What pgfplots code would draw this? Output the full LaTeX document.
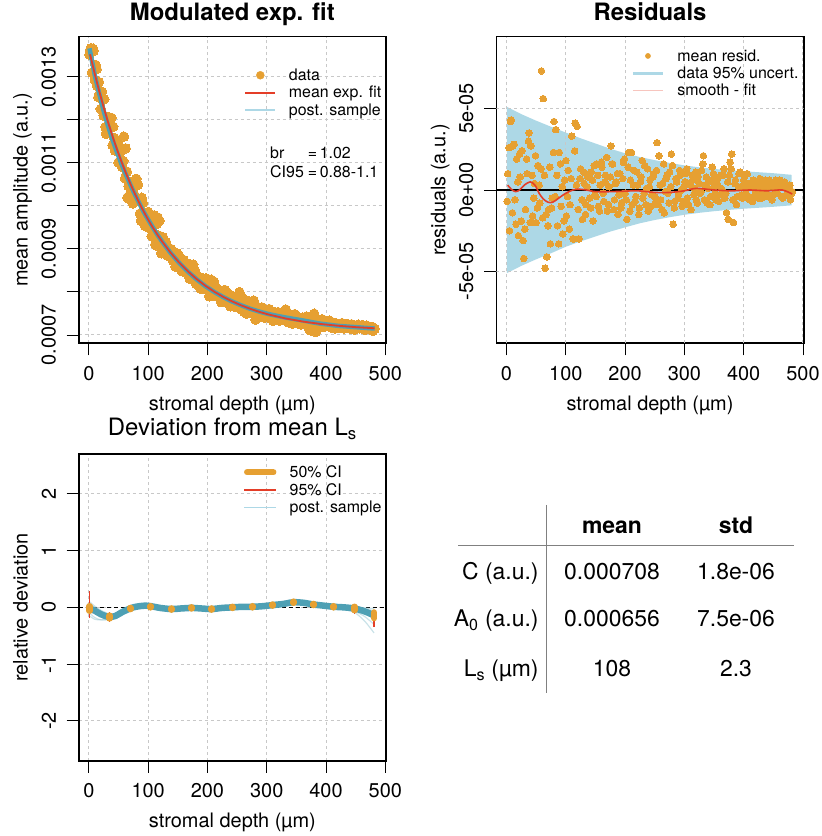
\documentclass[border=0pt]{standalone}
\usepackage{fontspec}
\setmainfont{TeX Gyre Heros}
\usepackage{pgfplots}
\pgfplotsset{compat=1.18}
\usepackage{pgfplotstable}

\definecolor{dorange}{RGB}{230,160,50}
\definecolor{fitred}{RGB}{228,62,40}
\definecolor{sampteal}{RGB}{78,160,180}
\definecolor{lblue}{RGB}{173,216,230}
\definecolor{gridgray}{RGB}{200,200,200}

\newcommand{\tickfont}{\fontsize{20}{24}\selectfont}
\newcommand{\legfont}{\fontsize{16}{19}\selectfont}
\newcommand{\tabfont}{\fontsize{23}{27}\selectfont}

% x, data (a.u.), residual (a.u.)
\pgfplotstableread{
x y r
2 136.20e-5 1.0e-5
5 130.94e-5 -2.5e-5
8 136.02e-5 4.3e-5
11 132.75e-5 2.7e-5
14 127.83e-5 -0.6e-5
17 128.75e-5 1.9e-5
20 122.51e-5 -2.8e-5
23 124.62e-5 0.8e-5
26 124.77e-5 2.4e-5
29 116.76e-5 -4.2e-5
32 118.38e-5 -1.2e-5
35 119.24e-5 1.0e-5
38 120.44e-5 3.5e-5
41 118.38e-5 2.7e-5
44 112.85e-5 -1.6e-5
47 113.65e-5 0.4e-5
50 110.09e-5 -2.0e-5
53 112.46e-5 1.5e-5
56 109.06e-5 -0.8e-5
59 116.09e-5 7.3e-5
62 113.35e-5 5.6e-5
65 101.94e-5 -4.8e-5
68 101.65e-5 -4.1e-5
71 103.60e-5 -1.2e-5
74 100.56e-5 -3.3e-5
77 102.46e-5 -0.5e-5
80 106.28e-5 4.2e-5
83 104.92e-5 3.7e-5
86 98.19e-5 -2.2e-5
89 101.88e-5 2.3e-5
92 97.79e-5 -1.0e-5
95 95.32e-5 -2.7e-5
98 97.88e-5 0.6e-5
101 94.95e-5 -1.6e-5
104 97.05e-5 1.2e-5
107 94.26e-5 -0.9e-5
110 97.79e-5 3.3e-5
113 90.84e-5 -3.0e-5
116 97.31e-5 4.1e-5
119 96.50e-5 3.9e-5
122 89.00e-5 -3.0e-5
125 92.72e-5 1.3e-5
128 89.05e-5 -1.8e-5
131 90.71e-5 0.4e-5
134 88.87e-5 -0.9e-5
137 90.05e-5 0.8e-5
140 88.24e-5 -0.5e-5
143 89.35e-5 1.1e-5
146 85.88e-5 -1.9e-5
149 87.01e-5 -0.3e-5
152 88.46e-5 1.6e-5
155 85.42e-5 -1.0e-5
158 86.29e-5 0.3e-5
161 86.98e-5 1.4e-5
164 84.47e-5 -0.7e-5
167 85.68e-5 0.9e-5
170 83.10e-5 -1.3e-5
173 84.22e-5 0.2e-5
176 86.36e-5 2.7e-5
179 84.91e-5 1.6e-5
182 82.36e-5 -0.6e-5
185 83.13e-5 0.5e-5
188 80.80e-5 -1.5e-5
191 82.99e-5 1.0e-5
194 80.88e-5 -0.8e-5
197 83.08e-5 1.7e-5
200 80.89e-5 -0.2e-5
203 79.01e-5 -1.8e-5
206 82.84e-5 2.3e-5
209 80.87e-5 0.6e-5
212 79.11e-5 -0.9e-5
215 80.96e-5 1.2e-5
218 79.11e-5 -0.4e-5
221 79.57e-5 0.3e-5
224 77.94e-5 -1.1e-5
227 79.62e-5 0.8e-5
230 78.10e-5 -0.5e-5
233 79.88e-5 1.5e-5
236 78.27e-5 0.1e-5
239 76.67e-5 -1.3e-5
242 78.38e-5 0.6e-5
245 77.29e-5 -0.3e-5
248 78.40e-5 1.0e-5
251 76.42e-5 -0.8e-5
254 79.95e-5 2.9e-5
257 78.98e-5 2.1e-5
260 76.11e-5 -0.6e-5
263 76.95e-5 0.4e-5
266 74.99e-5 -1.4e-5
269 76.94e-5 0.7e-5
272 75.89e-5 -0.2e-5
275 77.05e-5 1.1e-5
278 78.00e-5 2.2e-5
281 73.57e-5 -2.1e-5
284 74.83e-5 -0.7e-5
287 75.90e-5 0.5e-5
290 74.98e-5 -0.3e-5
293 76.06e-5 0.9e-5
296 74.04e-5 -1.0e-5
299 75.12e-5 0.2e-5
302 75.80e-5 1.0e-5
305 74.19e-5 -0.5e-5
308 74.98e-5 0.4e-5
311 73.28e-5 -1.2e-5
314 74.98e-5 0.6e-5
317 74.38e-5 0.1e-5
320 73.59e-5 -0.6e-5
323 74.89e-5 0.8e-5
326 73.80e-5 -0.2e-5
329 75.12e-5 1.2e-5
332 75.93e-5 2.1e-5
335 74.05e-5 0.3e-5
338 72.87e-5 -0.8e-5
341 74.09e-5 0.5e-5
344 73.11e-5 -0.4e-5
347 74.84e-5 1.4e-5
350 73.57e-5 0.2e-5
353 72.69e-5 -0.6e-5
356 73.93e-5 0.7e-5
359 72.86e-5 -0.3e-5
362 73.20e-5 0.1e-5
365 73.94e-5 0.9e-5
368 72.48e-5 -0.5e-5
371 71.52e-5 -1.4e-5
374 71.06e-5 -1.8e-5
377 74.50e-5 1.7e-5
380 74.95e-5 2.2e-5
383 70.69e-5 -2.0e-5
386 73.24e-5 0.6e-5
389 72.19e-5 -0.4e-5
392 73.54e-5 1.0e-5
395 72.69e-5 0.2e-5
398 71.95e-5 -0.5e-5
401 73.20e-5 0.8e-5
404 72.16e-5 -0.2e-5
407 72.71e-5 0.4e-5
410 71.67e-5 -0.6e-5
413 72.53e-5 0.3e-5
416 72.79e-5 0.6e-5
419 71.85e-5 -0.3e-5
422 72.22e-5 0.1e-5
425 71.58e-5 -0.5e-5
428 72.45e-5 0.4e-5
431 71.81e-5 -0.2e-5
434 72.48e-5 0.5e-5
437 71.95e-5 0.0e-5
440 71.52e-5 -0.4e-5
443 72.49e-5 0.6e-5
446 72.06e-5 0.2e-5
449 71.53e-5 -0.3e-5
452 72.30e-5 0.5e-5
455 71.67e-5 -0.1e-5
458 72.05e-5 0.3e-5
461 72.32e-5 0.6e-5
464 71.30e-5 -0.4e-5
467 71.87e-5 0.2e-5
470 72.05e-5 0.4e-5
473 71.42e-5 -0.2e-5
476 71.70e-5 0.1e-5
479 70.98e-5 -0.6e-5
482 71.46e-5 -0.1e-5
}\datatab

% further measurements: x, data (a.u.), residual (a.u.)
\pgfplotstableread{
x y r
1 135.10e-5 -0.7e-5
4 136.62e-5 2.6e-5
7 136.49e-5 4.2e-5
10 129.20e-5 -1.4e-5
13 131.77e-5 2.8e-5
16 125.27e-5 -2.1e-5
19 126.32e-5 0.5e-5
22 126.51e-5 2.2e-5
25 120.95e-5 -1.9e-5
28 118.33e-5 -3.1e-5
31 117.63e-5 -2.4e-5
34 120.58e-5 1.9e-5
37 120.37e-5 3.0e-5
40 114.10e-5 -2.0e-5
43 115.76e-5 0.9e-5
46 113.14e-5 -0.5e-5
49 114.57e-5 2.1e-5
52 110.23e-5 -1.1e-5
55 110.52e-5 0.3e-5
58 110.44e-5 1.3e-5
61 106.39e-5 -1.7e-5
64 107.97e-5 0.9e-5
67 104.58e-5 -1.5e-5
70 102.92e-5 -2.2e-5
73 105.57e-5 1.4e-5
76 102.16e-5 -1.1e-5
79 104.67e-5 2.3e-5
82 101.10e-5 -0.4e-5
85 101.57e-5 0.9e-5
88 96.55e-5 -3.3e-5
91 100.65e-5 1.6e-5
94 98.47e-5 0.2e-5
97 95.63e-5 -1.9e-5
100 98.59e-5 1.8e-5
103 95.68e-5 -0.4e-5
106 92.99e-5 -2.4e-5
109 95.41e-5 0.7e-5
112 91.05e-5 -3.0e-5
115 95.82e-5 2.4e-5
118 93.10e-5 0.3e-5
121 91.00e-5 -1.2e-5
124 92.31e-5 0.7e-5
127 90.44e-5 -0.6e-5
130 91.59e-5 1.1e-5
133 88.45e-5 -1.5e-5
136 89.62e-5 0.2e-5
139 89.91e-5 1.0e-5
142 87.31e-5 -1.1e-5
145 88.54e-5 0.6e-5
148 88.96e-5 1.5e-5
151 86.61e-5 -0.4e-5
154 87.47e-5 0.9e-5
157 84.83e-5 -1.3e-5
160 87.42e-5 1.7e-5
163 85.10e-5 -0.2e-5
166 85.41e-5 0.5e-5
169 86.53e-5 2.0e-5
172 83.24e-5 -0.9e-5
175 84.58e-5 0.8e-5
178 85.03e-5 1.6e-5
181 81.87e-5 -1.2e-5
184 83.14e-5 0.4e-5
187 83.41e-5 1.0e-5
190 81.79e-5 -0.3e-5
193 80.68e-5 -1.1e-5
196 82.18e-5 0.7e-5
199 83.09e-5 1.9e-5
202 80.30e-5 -0.6e-5
205 82.03e-5 1.4e-5
208 79.06e-5 -1.3e-5
211 82.40e-5 2.3e-5
214 80.14e-5 0.3e-5
217 78.89e-5 -0.7e-5
220 80.45e-5 1.1e-5
223 77.62e-5 -1.5e-5
226 79.39e-5 0.5e-5
229 80.47e-5 1.8e-5
232 78.25e-5 -0.2e-5
235 77.34e-5 -0.9e-5
238 79.34e-5 1.3e-5
241 78.04e-5 0.2e-5
244 76.65e-5 -1.0e-5
247 78.26e-5 0.8e-5
250 76.88e-5 -0.4e-5
253 78.31e-5 1.2e-5
256 76.04e-5 -0.9e-5
259 77.06e-5 0.3e-5
262 75.40e-5 -1.2e-5
265 78.04e-5 1.6e-5
268 76.19e-5 -0.1e-5
271 77.04e-5 0.9e-5
274 75.20e-5 -0.8e-5
277 76.05e-5 0.2e-5
280 77.22e-5 1.5e-5
283 74.47e-5 -1.1e-5
286 76.14e-5 0.7e-5
289 74.82e-5 -0.5e-5
292 76.40e-5 1.2e-5
295 75.08e-5 0.0e-5
298 74.26e-5 -0.7e-5
301 75.34e-5 0.5e-5
304 76.03e-5 1.3e-5
307 73.72e-5 -0.9e-5
310 74.81e-5 0.3e-5
313 75.31e-5 0.9e-5
316 74.01e-5 -0.3e-5
319 75.32e-5 1.1e-5
322 73.32e-5 -0.8e-5
325 74.43e-5 0.4e-5
328 73.85e-5 -0.1e-5
331 75.46e-5 1.6e-5
334 73.18e-5 -0.6e-5
337 74.50e-5 0.8e-5
340 73.72e-5 0.1e-5
343 72.64e-5 -0.9e-5
346 74.06e-5 0.6e-5
349 74.39e-5 1.0e-5
352 73.11e-5 -0.2e-5
355 73.65e-5 0.4e-5
358 72.48e-5 -0.7e-5
361 74.02e-5 0.9e-5
364 73.06e-5 0.0e-5
367 74.30e-5 1.3e-5
370 72.74e-5 -0.2e-5
373 73.38e-5 0.5e-5
376 73.72e-5 0.9e-5
379 74.07e-5 1.3e-5
382 72.11e-5 -0.6e-5
385 73.06e-5 0.4e-5
388 71.71e-5 -0.9e-5
391 72.76e-5 0.2e-5
394 73.61e-5 1.1e-5
397 72.17e-5 -0.3e-5
400 73.01e-5 0.6e-5
403 72.57e-5 0.2e-5
406 73.32e-5 1.0e-5
409 71.88e-5 -0.4e-5
412 72.44e-5 0.2e-5
415 71.50e-5 -0.7e-5
418 72.56e-5 0.4e-5
421 72.03e-5 -0.1e-5
424 72.39e-5 0.3e-5
427 72.76e-5 0.7e-5
430 71.52e-5 -0.5e-5
433 72.09e-5 0.1e-5
436 72.56e-5 0.6e-5
439 72.13e-5 0.2e-5
442 71.60e-5 -0.3e-5
445 72.27e-5 0.4e-5
448 71.24e-5 -0.6e-5
451 72.11e-5 0.3e-5
454 72.38e-5 0.6e-5
457 71.56e-5 -0.2e-5
460 71.93e-5 0.2e-5
463 72.11e-5 0.4e-5
466 71.18e-5 -0.5e-5
469 72.16e-5 0.5e-5
472 71.73e-5 0.1e-5
475 71.31e-5 -0.3e-5
478 71.89e-5 0.3e-5
481 71.37e-5 -0.2e-5
}\extratab

% mean exponential fit
\pgfplotstableread{
x f
2 135.20e-5
10 130.60e-5
17 126.85e-5
25 122.84e-5
32 119.58e-5
40 116.10e-5
47 113.25e-5
55 110.22e-5
62 107.75e-5
70 105.11e-5
77 102.96e-5
85 100.66e-5
92 98.79e-5
100 96.79e-5
107 95.16e-5
115 93.42e-5
122 92.00e-5
137 89.25e-5
152 86.86e-5
167 84.78e-5
182 82.96e-5
197 81.38e-5
212 80.01e-5
227 78.82e-5
242 77.78e-5
257 76.88e-5
272 76.09e-5
287 75.40e-5
302 74.80e-5
332 73.83e-5
362 73.10e-5
392 72.54e-5
422 72.12e-5
452 71.80e-5
482 71.56e-5
}\fittab

% posterior sample (modulated fit)
\pgfplotstableread{
x f
1 136.6e-5
10 130.3e-5
17 126.3e-5
25 122.0e-5
32 118.7e-5
40 115.3e-5
47 112.6e-5
55 109.7e-5
62 107.4e-5
70 104.9e-5
77 102.8e-5
85 100.6e-5
92 98.7e-5
100 96.8e-5
107 95.2e-5
115 93.4e-5
122 92.0e-5
137 89.2e-5
152 86.8e-5
167 84.7e-5
182 82.9e-5
197 81.3e-5
212 79.95e-5
227 78.78e-5
242 77.76e-5
257 76.88e-5
272 76.10e-5
287 75.45e-5
302 74.90e-5
317 74.45e-5
332 74.05e-5
347 73.70e-5
362 73.35e-5
377 72.95e-5
392 72.60e-5
422 72.10e-5
452 71.80e-5
482 71.50e-5
}\samptab

% 95% uncertainty band of the data (closed polygon: upper edge, then lower edge back)
\pgfplotstableread{
x b
0.5 5.10e-5
25 4.65e-5
50 4.25e-5
75 3.88e-5
100 3.52e-5
125 3.17e-5
150 2.85e-5
175 2.53e-5
200 2.25e-5
225 2.02e-5
250 1.83e-5
275 1.66e-5
300 1.51e-5
325 1.39e-5
350 1.29e-5
375 1.21e-5
400 1.15e-5
425 1.09e-5
450 1.03e-5
481 0.93e-5
481 -0.94e-5
450 -1.03e-5
425 -1.09e-5
400 -1.15e-5
375 -1.22e-5
350 -1.30e-5
325 -1.40e-5
300 -1.52e-5
275 -1.67e-5
250 -1.84e-5
225 -2.04e-5
200 -2.29e-5
175 -2.55e-5
150 -2.85e-5
125 -3.15e-5
100 -3.48e-5
75 -3.88e-5
50 -4.25e-5
25 -4.65e-5
0.5 -5.10e-5
}\bandtab

% smooth minus fit
\pgfplotstableread{
x s
2 0.30e-5
8 0.05e-5
15 -0.10e-5
22 0.00e-5
30 0.30e-5
40 0.50e-5
48 0.30e-5
55 -0.20e-5
62 -0.55e-5
70 -0.75e-5
78 -0.75e-5
88 -0.50e-5
100 -0.20e-5
112 0.00e-5
122 0.05e-5
135 0.00e-5
150 -0.10e-5
180 -0.10e-5
220 -0.05e-5
250 -0.15e-5
275 -0.15e-5
300 -0.05e-5
320 0.10e-5
350 0.00e-5
380 -0.05e-5
410 0.00e-5
440 -0.05e-5
465 0.00e-5
482 -0.25e-5
}\smoothtab

% relative deviation: 50% credible intervals (centre, plus, minus)
\pgfplotstableread{
x y p50 m50
1 -0.02 0.04 0.04
35 -0.17 0.025 0.025
70 -0.02 0.01 0.01
104 0.01 0.01 0.01
139 -0.03 0.01 0.01
173 -0.01 0.01 0.01
207 -0.03 0.01 0.01
242 0.00 0.01 0.01
276 0.01 0.01 0.01
310 0.04 0.01 0.01
345 0.09 0.01 0.01
379 0.05 0.01 0.01
413 0.01 0.01 0.01
448 -0.02 0.03 0.03
481 -0.14 0.05 0.05
}\citab

% relative deviation: posterior samples
\pgfplotstableread{
x a b c d e f
1 -0.02 0.05 -0.10 -0.15 0.10 0.00
10 -0.06 0.00 -0.18 -0.21 0.02 -0.04
20 -0.12 -0.07 -0.22 -0.22 -0.05 -0.10
30 -0.16 -0.12 -0.22 -0.20 -0.10 -0.15
36 -0.17 -0.14 -0.20 -0.18 -0.13 -0.16
45 -0.15 -0.12 -0.16 -0.15 -0.12 -0.14
55 -0.09 -0.07 -0.12 -0.11 -0.07 -0.09
65 -0.04 -0.02 -0.06 -0.06 -0.02 -0.04
75 0.00 0.01 -0.02 -0.02 0.01 0.00
85 0.02 0.03 0.01 0.01 0.03 0.02
95 0.03 0.04 0.02 0.02 0.04 0.03
105 0.02 0.03 0.01 0.01 0.03 0.02
120 -0.01 0.00 -0.02 -0.02 0.00 -0.01
139 -0.03 -0.02 -0.04 -0.04 -0.02 -0.03
155 -0.02 -0.01 -0.03 -0.03 -0.01 -0.02
173 -0.01 0.00 -0.02 -0.02 0.00 -0.01
190 -0.02 -0.01 -0.03 -0.03 -0.01 -0.02
207 -0.03 -0.02 -0.04 -0.04 -0.02 -0.03
225 -0.01 0.00 -0.02 -0.02 0.00 -0.01
242 0.00 0.01 -0.01 -0.01 0.01 0.00
260 0.01 0.02 0.00 0.00 0.02 0.01
276 0.01 0.02 0.00 0.00 0.02 0.01
293 0.02 0.03 0.01 0.01 0.03 0.02
310 0.04 0.05 0.03 0.03 0.05 0.04
328 0.06 0.08 0.05 0.05 0.08 0.06
345 0.09 0.11 0.07 0.07 0.11 0.09
362 0.08 0.10 0.06 0.06 0.10 0.08
379 0.05 0.07 0.03 0.03 0.07 0.05
396 0.03 0.05 0.01 0.01 0.05 0.03
413 0.01 0.03 -0.01 -0.02 0.03 0.01
430 0.00 0.02 -0.03 -0.04 0.02 0.00
448 -0.02 0.00 -0.07 -0.09 0.01 -0.03
465 -0.07 -0.02 -0.16 -0.24 -0.01 -0.09
481 -0.14 -0.06 -0.30 -0.45 -0.02 -0.18
}\samples

\pgfplotsset{
  panel/.style={
    scale only axis, width=307.3bp, height=306.6bp,
    clip mode=individual,
    scaled y ticks=false, scaled x ticks=false,
    axis line style={line width=1.6bp, black},
    tick align=outside, major tick length=12bp,
    tick style={line width=0.9bp, black},
    xtick pos=bottom, ytick pos=left,
    grid=major,
    major grid style={dash pattern=on 3bp off 3bp, gridgray, line width=1bp},
    xmin=-17.2, xmax=501.2,
    xtick={0,100,200,300,400,500},
    xticklabels={0,100,200,300,400,500},
    tick label style={font=\tickfont},
    xticklabel style={anchor=north, inner sep=0pt},
    yticklabel style={rotate=90, anchor=south, inner sep=0pt},
    xticklabel shift=10.7bp, yticklabel shift=10.7bp,
    label style={font=\tickfont},
    xlabel={stromal depth (µm)},
    xlabel style={at={([yshift=-61.7bp]axis description cs:0.5,0)}, anchor=center},
    ylabel style={at={([xshift=-51bp]axis description cs:0,0.5)}, anchor=base},
    title style={at={([yshift=10.7bp]axis description cs:0.5,1)}, anchor=base, font=\fontsize{24}{29}\selectfont\bfseries},
    legend cell align=left,
    legend style={draw=none, fill=none, inner sep=0pt, outer sep=0pt, font=\legfont, row sep=4.3bp,
      anchor=north west, nodes={inner sep=0pt}},
  },
  gridline/.style={gridgray, line width=1bp, dash pattern=on 3bp off 3bp, forget plot},
  dots/.style={only marks, mark=*, mark size=#1, mark options={draw=dorange, fill=dorange, line width=0pt}, forget plot},
  ci95/.style={fitred, line width=1.6bp, forget plot},
}

\begin{document}
\begin{tikzpicture}
\useasboundingbox (0bp,0bp) rectangle (822bp,836bp);

% ---------------- panel 1 ----------------
\begin{axis}[panel, at={(78.7bp,492.7bp)}, anchor=south west,
  title={Modulated exp. fit},
  ylabel={mean amplitude (a.u.)},
  ymin=0.0006807, ymax=0.001393,
  ytick={0.0007,0.0008,0.0009,0.0010,0.0011,0.0012,0.0013},
  yticklabels={0.0007,,0.0009,,0.0011,,0.0013},
  legend style={at={(0.539,0.8956)}},
]
\addlegendimage{legend image code/.code={\fill[dorange] (15bp,0bp) circle (4bp); \path (0bp,0bp) (43.4bp,0bp);}}
\addlegendentry{data}
\addlegendimage{legend image code/.code={\draw[fitred, line width=2bp] (0bp,0bp) -- (29.7bp,0bp); \path (43.4bp,0bp);}}
\addlegendentry{mean exp. fit}
\addlegendimage{legend image code/.code={\draw[lblue, line width=2bp] (0bp,0bp) -- (29.7bp,0bp); \path (43.4bp,0bp);}}
\addlegendentry{post. sample}
\addplot[dots=4.8bp] table[x=x, y=y] {\datatab};
\addplot[dots=4.8bp] table[x=x, y=y] {\extratab};
\addplot[sampteal, line width=4.5bp, forget plot] table[x=x, y=f] {\samptab};
\addplot[fitred, line width=1.8bp, forget plot] table[x=x, y=f] {\fittab};
\node[anchor=base west, inner sep=0pt, font=\legfont] at (rel axis cs:0.6225,0.6034)
  {\begin{tabular}[t]{@{}l@{\hspace{4bp}}l@{}}br & =\,1.02\\ CI95 & =\,0.88-1.1\end{tabular}};
\end{axis}

% ---------------- panel 2 ----------------
\begin{axis}[panel, grid=none, at={(496.3bp,492.7bp)}, anchor=south west, width=307.4bp,
  title={Residuals},
  ylabel={residuals (a.u.)},
  ymin=-9.4e-5, ymax=9.4e-5,
  ytick={-5e-5,0,5e-5},
  yticklabels={-5e-05,0e+00,5e-05},
  legend style={at={(0.4405,0.9586)}},
]
\addlegendimage{legend image code/.code={\fill[dorange] (15bp,0bp) circle (2.6bp); \path (0bp,0bp) (44.3bp,0bp);}}
\addlegendentry{mean resid.}
\addlegendimage{legend image code/.code={\draw[lblue, line width=2.5bp] (0bp,0bp) -- (30bp,0bp); \path (44.3bp,0bp);}}
\addlegendentry{data 95\% uncert.}
\addlegendimage{legend image code/.code={\draw[fitred!30, line width=1bp] (0bp,0bp) -- (30bp,0bp); \path (44.3bp,0bp);}}
\addlegendentry{smooth - fit}
\addplot[fill=lblue, draw=none, forget plot] table[x=x, y=b] {\bandtab};
\addplot[gridline] coordinates {(0,-9.4e-5) (0,9.4e-5)};
\addplot[gridline] coordinates {(100,-9.4e-5) (100,9.4e-5)};
\addplot[gridline] coordinates {(200,-9.4e-5) (200,9.4e-5)};
\addplot[gridline] coordinates {(300,-9.4e-5) (300,9.4e-5)};
\addplot[gridline] coordinates {(400,-9.4e-5) (400,9.4e-5)};
\addplot[gridline] coordinates {(500,-9.4e-5) (500,9.4e-5)};
\addplot[gridline] coordinates {(-17.2,5e-5) (501.2,5e-5)};
\addplot[gridline] coordinates {(-17.2,-5e-5) (501.2,-5e-5)};
\addplot[black, line width=1.6bp, forget plot] coordinates {(-17.2,0) (501.2,0)};
\addplot[dots=3.3bp] table[x=x, y=r] {\datatab};
\addplot[dots=3.3bp] table[x=x, y=r] {\extratab};
\addplot[fitred, line width=1.6bp, smooth, forget plot] table[x=x, y=s] {\smoothtab};
\end{axis}

% ---------------- panel 3 ----------------
\begin{axis}[panel, at={(78.7bp,75.3bp)}, anchor=south west, height=306.7bp,
  title={Deviation from mean L\textsubscript{s}},
  title style={font=\fontsize{24}{29}\selectfont\mdseries, yshift=2bp},
  ylabel={relative deviation},
  ymin=-2.7, ymax=2.7,
  ytick={-2,-1,0,1,2},
  yticklabels={-2,-1,0,1,2},
  legend style={at={(0.5356,0.962)}},
]
\addlegendimage{legend image code/.code={\draw[dorange, line width=6bp, line cap=round] (3bp,0bp) -- (29.4bp,0bp); \path (0bp,0bp) (45.4bp,0bp);}}
\addlegendentry{50\% CI}
\addlegendimage{legend image code/.code={\draw[fitred, line width=1.5bp] (0bp,0bp) -- (32.4bp,0bp); \path (45.4bp,0bp);}}
\addlegendentry{95\% CI}
\addlegendimage{legend image code/.code={\draw[lblue, line width=1.5bp] (0bp,0bp) -- (32.4bp,0bp); \path (45.4bp,0bp);}}
\addlegendentry{post. sample}
\addplot[black, line width=1.5bp, dash pattern=on 4bp off 3bp, forget plot] coordinates {(-17.2,0) (501.2,0)};
\addplot[sampteal!60, opacity=0.5, line width=1.2bp, smooth, forget plot] table[x=x, y=b] {\samples};
\addplot[sampteal!60, opacity=0.5, line width=1.2bp, smooth, forget plot] table[x=x, y=c] {\samples};
\addplot[sampteal!60, opacity=0.5, line width=1.2bp, smooth, forget plot] table[x=x, y=d] {\samples};
\addplot[sampteal!60, opacity=0.5, line width=1.2bp, smooth, forget plot] table[x=x, y=e] {\samples};
\addplot[sampteal!80, opacity=0.6, line width=3bp, smooth, forget plot] table[x=x, y=f] {\samples};
\addplot[sampteal, line width=6.5bp, smooth, forget plot] table[x=x, y=a] {\samples};
% 95% credible intervals
\addplot[ci95] coordinates {(1,-0.19) (1,0.28)};
\addplot[ci95] coordinates {(35,-0.25) (35,-0.09)};
\addplot[ci95] coordinates {(70,-0.05) (70,0.01)};
\addplot[ci95] coordinates {(104,-0.02) (104,0.04)};
\addplot[ci95] coordinates {(139,-0.06) (139,0.00)};
\addplot[ci95] coordinates {(173,-0.04) (173,0.02)};
\addplot[ci95] coordinates {(207,-0.06) (207,0.00)};
\addplot[ci95] coordinates {(242,-0.03) (242,0.03)};
\addplot[ci95] coordinates {(276,-0.02) (276,0.04)};
\addplot[ci95] coordinates {(310,0.01) (310,0.07)};
\addplot[ci95] coordinates {(345,0.05) (345,0.13)};
\addplot[ci95] coordinates {(379,0.01) (379,0.09)};
\addplot[ci95] coordinates {(413,-0.03) (413,0.05)};
\addplot[ci95] coordinates {(448,-0.11) (448,0.04)};
\addplot[ci95] coordinates {(481,-0.34) (481,-0.04)};
% 50% credible intervals
\addplot[dorange, only marks, mark=none, forget plot,
  error bars/.cd, y dir=both, y explicit, error mark=none,
  error bar style={dorange, solid, line width=6.5bp, line cap=round}]
  table[x=x, y=y, y error plus=p50, y error minus=m50] {\citab};
\end{axis}

% ---------------- summary table ----------------
\draw[gray, line width=0.9bp] (546.3bp,331bp) -- (546.3bp,143bp);
\draw[gray, line width=0.9bp] (458.3bp,290.7bp) -- (793.7bp,290.7bp);
\node[anchor=base, inner sep=0pt, font=\tabfont\bfseries] at (612bp,302bp) {mean};
\node[anchor=base, inner sep=0pt, font=\tabfont\bfseries] at (736bp,302bp) {std};
\node[anchor=base east, inner sep=0pt, font=\tabfont] at (538.7bp,256.3bp) {C (a.u.)};
\node[anchor=base east, inner sep=0pt, font=\tabfont] at (538.7bp,209bp) {A\textsubscript{0} (a.u.)};
\node[anchor=base east, inner sep=0pt, font=\tabfont] at (538.7bp,159.3bp) {L\textsubscript{s} (µm)};
\node[anchor=base, inner sep=0pt, font=\tabfont] at (612bp,256.3bp) {0.000708};
\node[anchor=base, inner sep=0pt, font=\tabfont] at (736bp,256.3bp) {1.8e-06};
\node[anchor=base, inner sep=0pt, font=\tabfont] at (612bp,209bp) {0.000656};
\node[anchor=base, inner sep=0pt, font=\tabfont] at (736bp,209bp) {7.5e-06};
\node[anchor=base, inner sep=0pt, font=\tabfont] at (612bp,159.3bp) {108};
\node[anchor=base, inner sep=0pt, font=\tabfont] at (736bp,159.3bp) {2.3};
\end{tikzpicture}
\end{document}
